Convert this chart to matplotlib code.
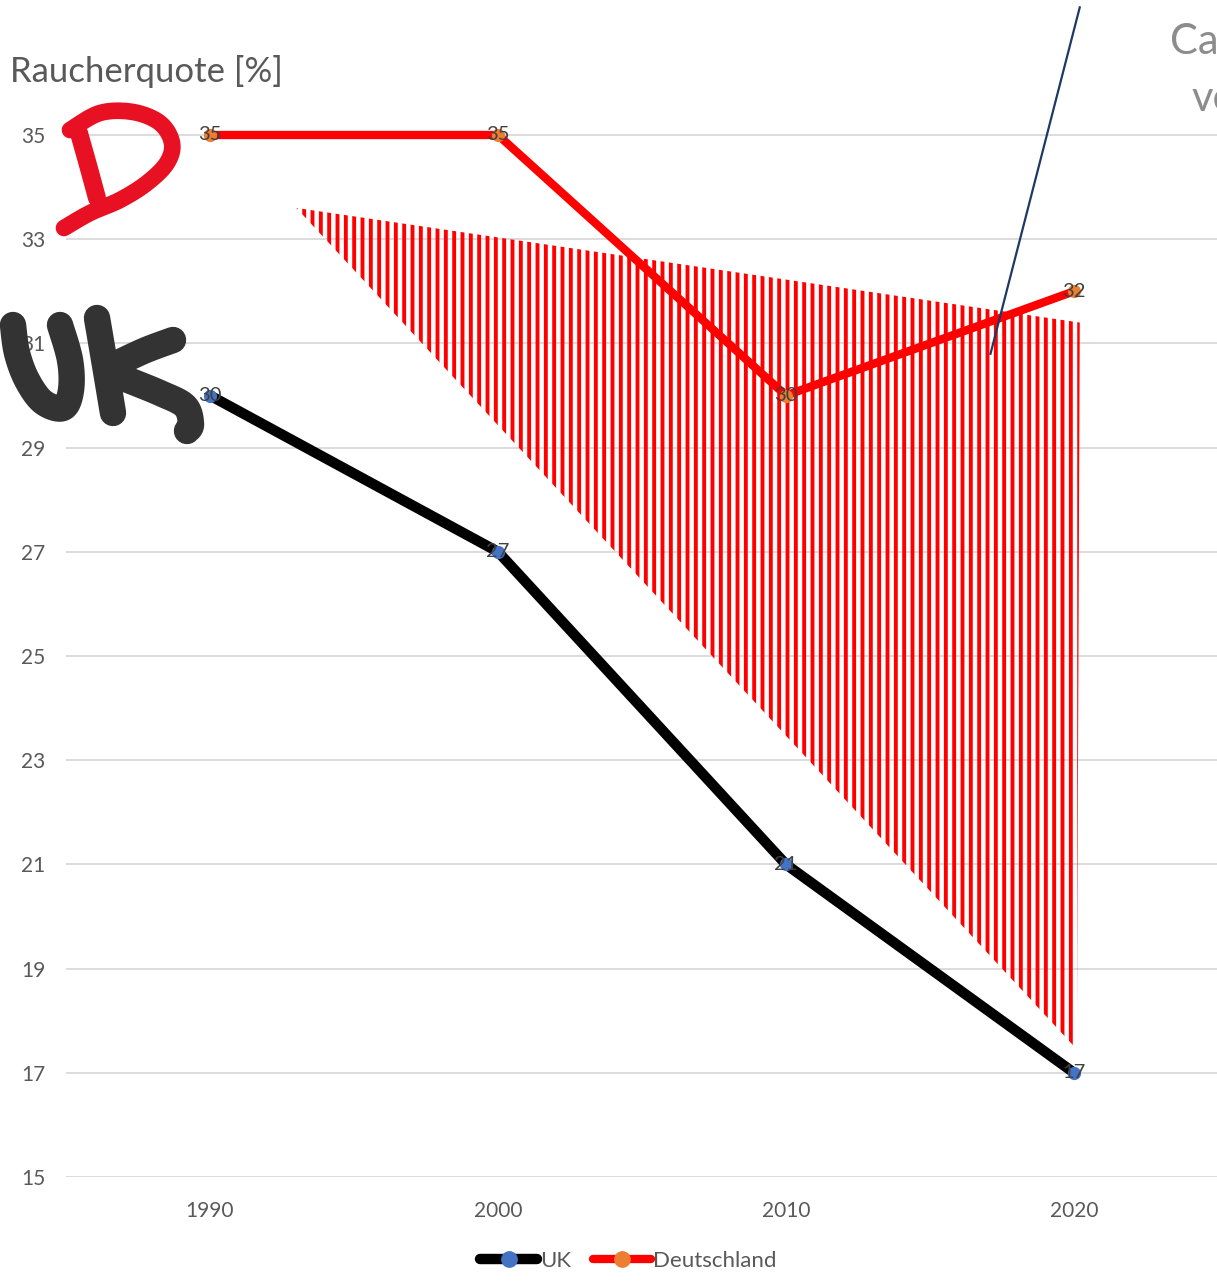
import numpy as np
import matplotlib
matplotlib.use("Agg")
import matplotlib.pyplot as plt
from matplotlib.patches import Polygon
from matplotlib.lines import Line2D

plt.rcParams['font.family'] = ['Lato', 'DejaVu Sans']
plt.rcParams['hatch.linewidth'] = 2.8

# Daten
jahre = ['1990', '2000', '2010', '2020']
uk = [30, 27, 21, 17]
deutschland = [35, 35, 30, 32]

# schraffierte Fläche (Kategorie-Position, Prozent)
flaeche_x = [0.30, 3.02, 3.01]
flaeche_y = [33.6, 31.4, 17.45]

# dünne Linie oben rechts
strich_x = [3.02, 2.71]
strich_y = [37.45, 30.8]

W, H = 1217, 1283
fig = plt.figure(figsize=(W / 100, H / 100), dpi=100)
ax = fig.add_axes([66 / W, (H - 1177) / H, 1152 / W, 1177 / H])

x = np.arange(len(jahre))
ax.set_xlim(-0.5, 3.5)
ax.set_ylim(15, 15 + 1177 / 52.1)
ax.set_yticks(range(15, 36, 2))
ax.set_xticks(x)
ax.set_xticklabels(jahre)
ax.yaxis.grid(True, color='#d9d9d9', lw=1.3)
ax.set_axisbelow(True)
for s in ax.spines.values():
    s.set_visible(False)
ax.tick_params(length=0, labelsize=15, labelcolor='#595959')
ax.tick_params(axis='y', pad=15)
ax.tick_params(axis='x', pad=17)

# Schraffur
ax.add_patch(Polygon(list(zip(flaeche_x, flaeche_y)), closed=True, facecolor='none',
                     edgecolor='#ff0000', hatch='||', lw=0, zorder=1))

l_uk, = ax.plot(x, uk, color='black', lw=7.5, marker='o', ms=8.5, mfc='#4472c4', mec='#4472c4',
                solid_capstyle='round', solid_joinstyle='round', zorder=3, label='UK')
l_de, = ax.plot(x, deutschland, color='#ff0000', lw=6, marker='o', ms=8.5, mfc='#ed7d31',
                mec='#ed7d31', solid_capstyle='round', solid_joinstyle='round', zorder=3,
                label='Deutschland')

for xi, v in zip(x, uk):
    ax.text(xi, v, str(v), ha='center', va='center', fontsize=14.5, color='#404040', zorder=4)
for xi, v in zip(x, deutschland):
    ax.text(xi, v, str(v), ha='center', va='center', fontsize=14.5, color='#404040', zorder=4)

ax.plot(strich_x, strich_y, color='#1f3864', lw=1.6, zorder=5)

fig.text(10 / W, 1 - 72 / H, 'Raucherquote [%]', fontsize=25, color='#595959', va='center')
fig.text(1170 / W, 1 - 54 / H, 'Ca', fontsize=30, color='#8c8c8c', va='baseline')
fig.text(1192 / W, 1 - 111 / H, 've', fontsize=30, color='#8c8c8c', va='baseline')

fig.legend(handles=[l_uk, l_de], loc='center', bbox_to_anchor=(628 / W, 1 - 1261 / H),
           ncol=2, frameon=False, fontsize=16, handlelength=2.6, handletextpad=0.1,
           columnspacing=1.0, numpoints=1, markerscale=1.3, labelcolor='#595959')


# handschriftliche Markierungen
def glatt(pts, n=12):
    p = np.array(pts, float)
    p = np.vstack([p[0], p, p[-1]])
    out = []
    t = np.linspace(0, 1, n, endpoint=False)[:, None]
    for i in range(1, len(p) - 2):
        p0, p1, p2, p3 = p[i - 1], p[i], p[i + 1], p[i + 2]
        out.append(0.5 * (2 * p1 + (-p0 + p2) * t + (2 * p0 - 5 * p1 + 4 * p2 - p3) * t ** 2
                          + (-p0 + 3 * p1 - 3 * p2 + p3) * t ** 3))
    out.append(p[-2][None])
    return np.vstack(out)


def strich(pts, farbe, breite):
    q = glatt(pts)
    fig.add_artist(Line2D(q[:, 0] / W, 1 - q[:, 1] / H, transform=fig.transFigure, color=farbe,
                          lw=breite, solid_capstyle='round', solid_joinstyle='round', zorder=10))


rot = '#e81123'
strich([(79, 133), (88, 165), (97, 198)], rot, 13)
strich([(70, 130), (100, 113), (133, 112), (160, 123), (172, 143), (167, 163), (147, 183),
        (120, 200), (90, 213), (64, 228)], rot, 12)

grau = '#333333'
strich([(13, 325), (17, 353), (27, 380), (43, 402), (63, 408), (71, 390), (70, 360),
        (60, 325)], grau, 19)
strich([(97, 318), (105, 365), (113, 413)], grau, 19)
strich([(173, 340), (146, 350), (120, 362)], grau, 19)
strich([(123, 378), (160, 393), (185, 406), (191, 424), (187, 431)], grau, 19)

fig.savefig('out.png', dpi=100)
